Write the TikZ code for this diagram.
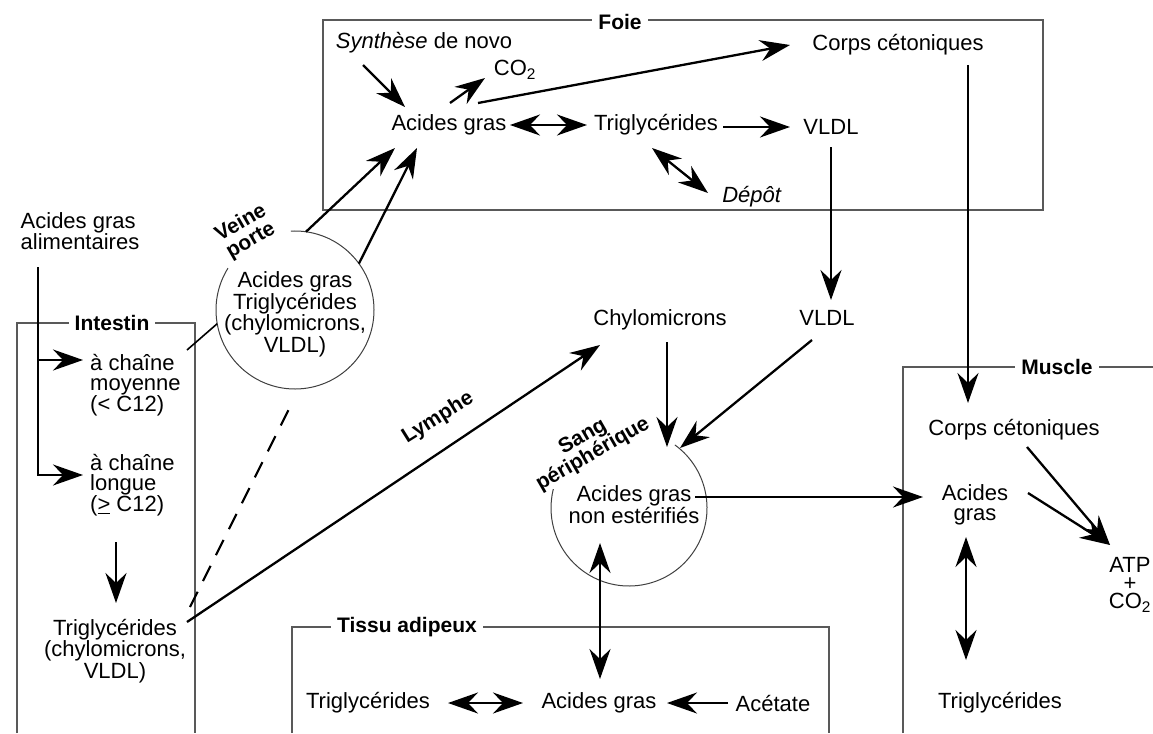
\documentclass[tikz,border=0pt]{standalone}
\usepackage{fontspec}
\setmainfont{Liberation Sans}
\usetikzlibrary{arrows.meta,calc}
\begin{document}
\begin{tikzpicture}[x=1pt,y=-1pt,
  every node/.style={font=\fontsize{22}{20}\selectfont, inner sep=2pt, align=center},
  ttl/.style={font=\fontsize{21}{21}\selectfont\bfseries, fill=white, inner xsep=6pt, inner ysep=0pt},
  lbl/.style={font=\fontsize{21}{20}\selectfont\bfseries, align=center},
  boxline/.style={draw=black!65, line width=1.3pt},
  arr/.style={line width=2.3pt, -{Stealth[length=30pt,width=21pt,inset=10pt]}},
  darr/.style={line width=2.3pt, {Stealth[length=30pt,width=21pt,inset=10pt]}-{Stealth[length=30pt,width=21pt,inset=10pt]}},
  circ/.style={draw=black!75, line width=1pt},
  plain/.style={line width=1.6pt},
  dsh/.style={line width=2.2pt, dash pattern=on 17pt off 12pt}
]
\fill[white] (0,0) rectangle (1153,733);
\useasboundingbox (0,0) rectangle (1153,733);

% compartments
\draw[boxline] (323,20) rectangle (1043,210);
\node[ttl] (tfoie) at (620,22) {Foie};
\draw[boxline] (17,733) |- (195,323) -- (195,733);
\node[ttl] (tint) at (112,323) {Intestin};
\draw[boxline] (903,733) |- (1153,367);
\node[ttl] (tmus) at (1057,367) {Muscle};
\draw[boxline] (292,733) |- (829,627) -- (829,733);
\node[ttl] (ttis) at (407,627) {Tissu adipeux};

% nodes
\node (synth) at (424,43) {\textit{Synthèse} de novo};
\node (co2) at (515,70) {CO\textsubscript{2}};
\node (agF) at (449,125) {Acides gras};
\node (tgF) at (656,125) {Triglycérides};
\node (vldlF) at (831,127) {VLDL};
\node (depot) at (752,197) {\textit{Dépôt}};
\node (ccF) at (898,45) {Corps cétoniques};
\node[align=left] (aga) at (80,231) {Acides gras\\alimentaires};
\node[lbl, rotate=30] (vp) at (246,232) {Veine\\porte};
\node[circle, minimum size=158pt, inner sep=0pt, outer sep=0pt] (vpc) at (295,310) {};
\node (vpt) at (295,314) {Acides gras\\Triglycérides\\(chylomicrons,\\VLDL)};
\node[anchor=west, align=left] (moy) at (88,385) {à chaîne\\moyenne\\(< C12)};
\node[anchor=west, align=left] (lon) at (88,485) {à chaîne\\longue\\(\underline{>} C12)};
\node (tgI) at (115,651) {Triglycérides\\(chylomicrons,\\VLDL)};
\node[lbl, rotate=32] (lym) at (438,418) {Lymphe};
\node (chylo) at (660,320) {Chylomicrons};
\node (vldlM) at (827,318) {VLDL};
\node[lbl, rotate=30] (sp) at (588,446) {Sang\\périphérique};
\node[circle, minimum size=156pt, inner sep=0pt, outer sep=0pt] (spc) at (629,508) {};
\node (agS) at (634,505) {Acides gras\\non estérifiés};
\node (ccM) at (1014,430) {Corps cétoniques};
\node (agM) at (975,505) {Acides\\gras};
\node[font=\fontsize{22}{18}\selectfont] (atp) at (1130,585) {ATP\\+\\CO\textsubscript{2}};
\node (tgM) at (1000,703) {Triglycérides};
\node (tgT) at (368,703) {Triglycérides};
\node (agT) at (599,703) {Acides gras};
\node (acet) at (773,703) {Acétate};

% circles with gaps
\draw[circ] (vpc.center) ++(-93:79) arc[start angle=-93, end angle=212, radius=79];
\draw[circ] (spc.center) ++(-54:78) arc[start angle=-54, end angle=194, radius=78];

% connectors: liver
\draw[arr] ($(synth)+(-61,22)$) -- ($(agF)+(-44,-18)$);
\draw[arr] ($(agF)+(1,-22)$) -- ($(co2)+(-30,8)$);
\draw[arr] ($(agF)+(29,-22)$) -- ($(ccF)+(-108,0)$);
\draw[darr] ($(agF)+(61,0)$) -- ($(tgF)+(-69,0)$);
\draw[arr] ($(tgF)+(67,2)$) -- ($(vldlF)+(-41,0)$);
\draw[darr] ($(tgF)+(-4,23)$) -- ($(depot)+(-44,-4)$);
\draw[arr] ($(vldlF)+(0,20)$) -- ($(vldlM)+(4,-18)$);
\draw[arr] ($(ccF)+(70,20)$) -- ($(ccM)+(-46,-27)$);

% intestine
\draw[arr] ($(aga)+(-42,36)$) |- ($(lon.west)+(-5,-10)$);
\draw[arr] ($(aga)+(-42,129)$) -- ($(moy.west)+(-5,-25)$);
\draw[arr] ($(lon.west)+(28,57)$) -- ($(tgI)+(1,-48)$);
\draw[plain] ($(moy.west)+(99,-35)$) -- (vpc.190);
\draw[arr] (vpc.82) -- ($(agF)+(-54,23)$);
\draw[arr] (vpc.36) -- ($(agF)+(-32,23)$);
\draw[dsh] ($(tgI)+(75,-44)$) -- ($(vpc.south)+(-3,14)$);
\draw[arr] ($(tgI)+(72,-29)$) -- ($(chylo)+(-60,25)$);

% blood
\draw[arr] ($(chylo)+(7,22)$) -- ($(spc)+(38,-61)$);
\draw[arr] ($(vldlM)+(-15,22)$) -- ($(spc)+(51,-60)$);
\draw[arr] ($(agS)+(61,-8)$) -- ($(agM)+(-52,-8)$);
\draw[darr] ($(spc)+(-29,35)$) -- ($(agT)+(1,-24)$);

% adipose
\draw[darr] ($(tgT)+(80,0)$) -- ($(agT)+(-76,0)$);
\draw[arr] ($(acet)+(-45,0)$) -- ($(agT)+(68,0)$);

% muscle
\draw[arr] ($(ccM)+(13,17)$) -- ($(atp)+(-20,-40)$);
\draw[arr] ($(agM)+(53,-12)$) -- ($(atp)+(-20,-40)$);
\draw[darr, line width=1.8pt] ($(agM)+(-9,32)$) -- ($(tgM)+(-34,-43)$);
\end{tikzpicture}
\end{document}
